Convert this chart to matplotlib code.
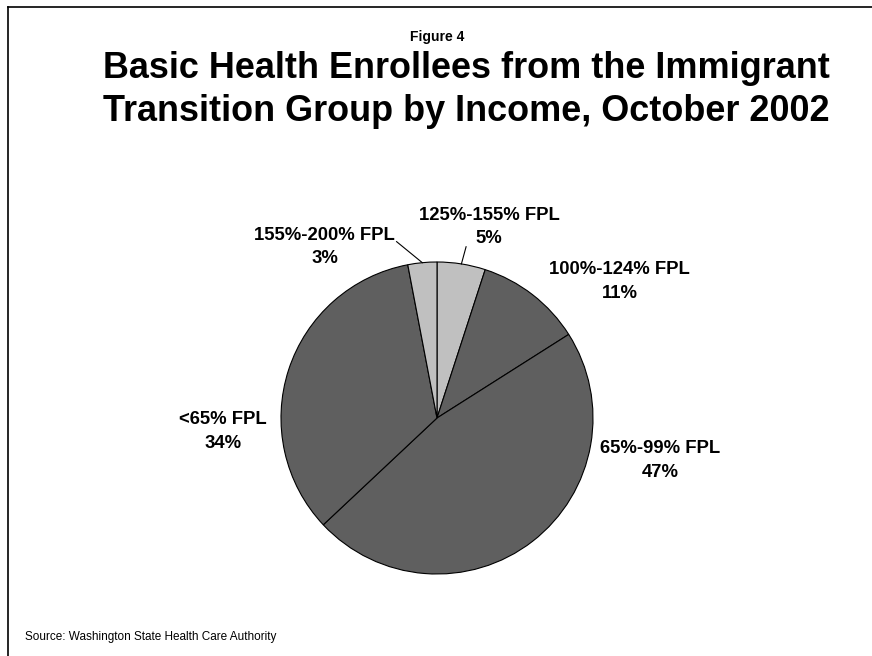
import matplotlib.pyplot as plt
import numpy as np

plt.rcParams['font.family'] = ['Liberation Sans', 'DejaVu Sans']

# income groups, clockwise from 12 o'clock
groups = ['125%-155% FPL', '100%-124% FPL', '65%-99% FPL', '<65% FPL', '155%-200% FPL']
shares = [5, 11, 47, 34, 3]
colors = ['#c0c0c0', '#5f5f5f', '#5f5f5f', '#5f5f5f', '#c0c0c0']

# where each label sits (pie units) and whether it gets a leader line
label_pos = [(0.335, 1.225), (1.17, 0.875), (1.43, -0.272), (-1.37, -0.087), (-0.72, 1.095)]
leader = [True, False, False, False, True]

fig = plt.figure(figsize=(8.72, 6.56), dpi=100)
W, H = 872, 656

# frame line on the left and top
fig.add_artist(plt.Line2D([8 / W, 8 / W], [0, 1 - 7 / H], color='black', lw=1.2))
fig.add_artist(plt.Line2D([8 / W, 1], [1 - 7 / H, 1 - 7 / H], color='black', lw=1.2))

fig.text(437 / W, 1 - 37 / H, 'Figure 4', ha='center', va='center',
         fontsize=10, fontweight='bold')
fig.text(466 / W, 1 - 90 / H,
         'Basic Health Enrollees from the Immigrant\nTransition Group by Income, October 2002',
         ha='center', va='center', fontsize=25.9, fontweight='bold', linespacing=1.32)
fig.text(25 / W, 1 - 637 / H, 'Source: Washington State Health Care Authority',
         ha='left', va='center', fontsize=8.5)

cx, cy, r = 437, 418, 156
ax = fig.add_axes([(cx - r) / W, (H - cy - r) / H, 2 * r / W, 2 * r / H])
wedges, _ = ax.pie(shares, colors=colors, startangle=90, counterclock=False,
                   wedgeprops=dict(edgecolor='black', linewidth=0.8))
ax.set_xlim(-1, 1)
ax.set_ylim(-1, 1)
ax.set_aspect('equal')
ax.axis('off')

for w, name, s, (lx, ly), ld in zip(wedges, groups, shares, label_pos, leader):
    ax.text(lx, ly, f'{name}\n{s}%', ha='center', va='center', fontsize=13.3,
            fontweight='bold', linespacing=1.5, clip_on=False)
    if ld:
        mid = np.deg2rad((w.theta1 + w.theta2) / 2)
        ex, ey = np.cos(mid), np.sin(mid)
        if lx > 0:
            sx, sy = ex + 0.03, ey + 0.11
        else:
            sx, sy = ex - 0.165, ey + 0.135
        ax.plot([sx, ex], [sy, ey], color='black', lw=0.8, clip_on=False)

fig.savefig('out.png', dpi=100)
